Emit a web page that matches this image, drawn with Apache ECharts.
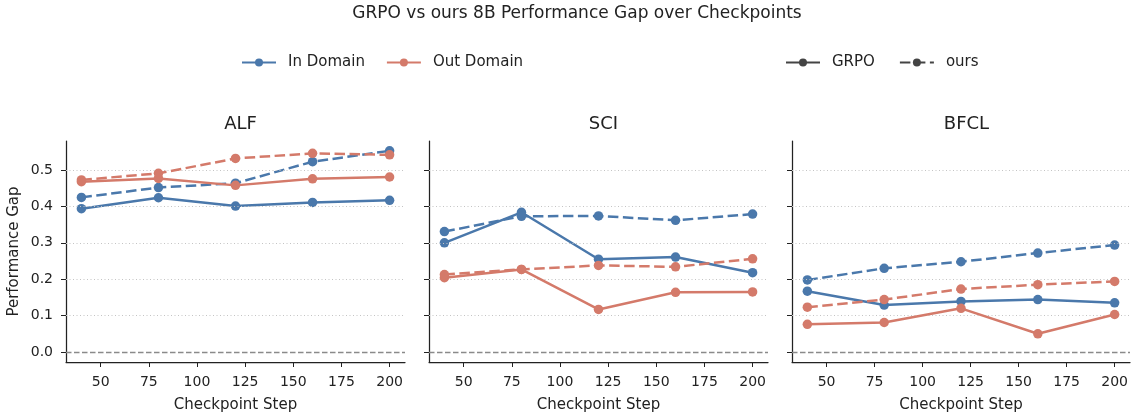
<!DOCTYPE html>
<html><head><meta charset="utf-8">
<script src="https://cdn.jsdelivr.net/npm/echarts@6/dist/echarts.min.js"></script>
<style>html,body{margin:0;padding:0;background:#fff}#c{width:1131px;height:418px}</style>
</head><body><div id="c"></div>
<script>
const steps = [40, 80, 120, 160, 200];
const panels = ['ALF', 'SCI', 'BFCL'];
const xTicks = [50, 75, 100, 125, 150, 175, 200];
const yTicks = [0, 0.1, 0.2, 0.3, 0.4, 0.5];

// In Domain / Out Domain, GRPO (solid) / ours (dashed)
const alfInGRPO  = [0.394, 0.424, 0.401, 0.411, 0.417];
const alfInOurs  = [0.425, 0.452, 0.464, 0.523, 0.553];
const alfOutGRPO = [0.468, 0.477, 0.458, 0.476, 0.481];
const alfOutOurs = [0.473, 0.491, 0.532, 0.546, 0.542];

const sciInGRPO  = [0.300, 0.384, 0.255, 0.261, 0.218];
const sciInOurs  = [0.331, 0.373, 0.374, 0.362, 0.379];
const sciOutGRPO = [0.204, 0.227, 0.117, 0.164, 0.165];
const sciOutOurs = [0.213, 0.227, 0.238, 0.234, 0.256];

const bfclInGRPO  = [0.167, 0.129, 0.139, 0.144, 0.135];
const bfclInOurs  = [0.198, 0.230, 0.248, 0.272, 0.294];
const bfclOutGRPO = [0.076, 0.081, 0.120, 0.050, 0.103];
const bfclOutOurs = [0.123, 0.144, 0.173, 0.185, 0.194];

const panelData = [
  [alfInGRPO, alfInOurs, alfOutGRPO, alfOutOurs],
  [sciInGRPO, sciInOurs, sciOutGRPO, sciOutOurs],
  [bfclInGRPO, bfclInOurs, bfclOutGRPO, bfclOutOurs]
];

const BLUE = '#4a78ab', RED = '#d47a6a', DARK = '#444444';
const FONT = 'DejaVu Sans';
const DASH = [10.5, 4.5];
const lefts = [66, 429, 792];
const W = 339, TOP = 141, H = 221;

const grids = [], xAxes = [], yAxes = [], series = [], titles = [];
titles.push({ text: 'GRPO vs ours 8B Performance Gap over Checkpoints', left: 572, top: 0, textAlign: 'center',
  textStyle: { fontFamily: FONT, fontSize: 17, fontWeight: 'normal', color: '#222' } });

panels.forEach((p, i) => {
  grids.push({ left: lefts[i], top: TOP, width: W, height: H, containLabel: false });
  titles.push({ text: p, left: lefts[i] + W / 2, top: 110, textAlign: 'center',
    textStyle: { fontFamily: FONT, fontSize: 18, fontWeight: 'normal', color: '#222' } });
  xAxes.push({
    type: 'value', gridIndex: i, min: 32, max: 208,
    name: 'Checkpoint Step', nameLocation: 'middle', nameGap: 36,
    nameTextStyle: { fontFamily: FONT, fontSize: 15, color: '#222' },
    axisLine: { show: true, onZero: false, lineStyle: { color: '#222', width: 1.25 } },
    axisTick: { show: true, length: 5, lineStyle: { color: '#222', width: 1 }, customValues: xTicks },
    axisLabel: { fontFamily: FONT, fontSize: 14, color: '#222', margin: 13, customValues: xTicks },
    splitLine: { show: false }
  });
  yAxes.push({
    type: 'value', gridIndex: i, min: -0.0276, max: 0.58,
    name: i === 0 ? 'Performance Gap' : '', nameLocation: 'middle', nameGap: 44,
    nameTextStyle: { fontFamily: FONT, fontSize: 15, color: '#222' },
    axisLine: { show: true, onZero: false, lineStyle: { color: '#222', width: 1.25 } },
    axisTick: { show: true, length: 5, lineStyle: { color: '#222', width: 1 }, customValues: yTicks },
    axisLabel: { show: i === 0, fontFamily: FONT, fontSize: 14, color: '#222', margin: 13,
      customValues: yTicks, formatter: v => v.toFixed(1) },
    splitLine: { show: false }
  });
  // gridlines and zero line
  series.push({
    type: 'line', xAxisIndex: i, yAxisIndex: i, data: [], z: 1, silent: true,
    markLine: {
      silent: true, symbol: 'none', label: { show: false }, animation: false,
      data: yTicks.filter(v => v !== 0).map(v => ({ yAxis: v, lineStyle: { type: [1, 2.5], color: '#c4c4c4', width: 1 } }))
        .concat([{ yAxis: 0, lineStyle: { type: [5.5, 2.5], color: '#8a8a8a', width: 1.4 } }])
    }
  });
  const conf = [[BLUE, 'solid'], [BLUE, DASH], [RED, 'solid'], [RED, DASH]];
  const names = ['In Domain GRPO', 'In Domain ours', 'Out Domain GRPO', 'Out Domain ours'];
  panelData[i].forEach((arr, k) => {
    series.push({
      type: 'line', name: p + ' ' + names[k], xAxisIndex: i, yAxisIndex: i, z: 3 + k,
      data: steps.map((s, j) => [s, arr[j]]),
      symbol: 'circle', symbolSize: 9.5, showSymbol: true,
      lineStyle: { color: conf[k][0], width: 2.5, type: conf[k][1] },
      itemStyle: { color: conf[k][0] },
      animation: false
    });
  });
});

// legend-only series
const legendSeries = [
  ['In Domain', BLUE, 'solid'], ['Out Domain', RED, 'solid'],
  ['GRPO', DARK, 'solid'], ['ours', DARK, DASH]
];
legendSeries.forEach(([n, c, t]) => {
  series.push({ type: 'line', name: n, xAxisIndex: 0, yAxisIndex: 0, data: [],
    symbol: 'circle', symbolSize: 7, lineStyle: { color: c, width: 2.5, type: t }, itemStyle: { color: c } });
});

const legendText = { fontFamily: FONT, fontSize: 15, color: '#222', padding: [0, 0, 0, 7] };
const chart = echarts.init(document.getElementById('c'), null, { renderer: 'canvas' });
chart.setOption({
  backgroundColor: '#fff',
  animation: false,
  title: titles,
  legend: [
    { data: ['In Domain', 'Out Domain'], left: 236, top: 50, itemWidth: 34, itemHeight: 10, itemGap: 21,
      textStyle: legendText, selectedMode: false },
    { data: ['GRPO', 'ours'], left: 780, top: 50, itemWidth: 34, itemHeight: 10, itemGap: 24,
      textStyle: legendText, selectedMode: false }
  ],
  grid: grids, xAxis: xAxes, yAxis: yAxes, series: series
});
</script></body></html>
